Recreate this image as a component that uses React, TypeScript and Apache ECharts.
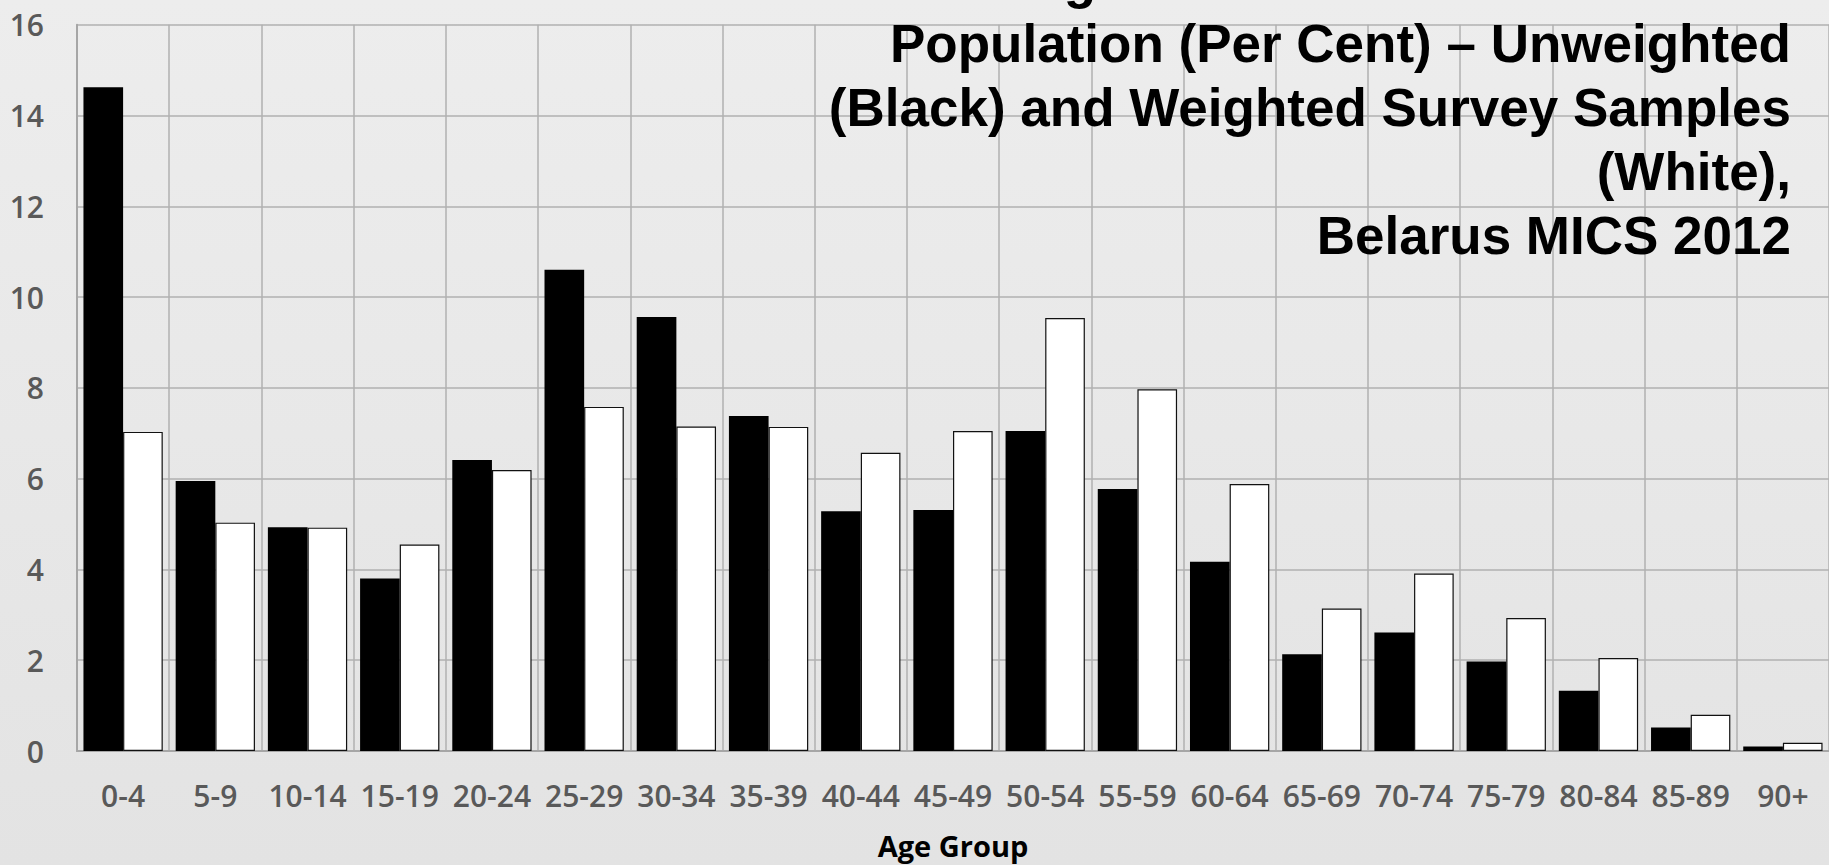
import React, { useEffect, useRef } from "react";
import * as echarts from "echarts";

const categories = ["0-4", "5-9", "10-14", "15-19", "20-24", "25-29", "30-34", "35-39", "40-44", "45-49", "50-54", "55-59", "60-64", "65-69", "70-74", "75-79", "80-84", "85-89", "90+"];
const unweighted = [14.62, 5.95, 4.93, 3.8, 6.41, 10.6, 9.56, 7.38, 5.28, 5.31, 7.05, 5.77, 4.17, 2.13, 2.61, 1.97, 1.33, 0.52, 0.1];
const weighted = [7.03, 5.03, 4.92, 4.55, 6.19, 7.58, 7.15, 7.14, 6.57, 7.05, 9.54, 7.97, 5.88, 3.14, 3.91, 2.93, 2.05, 0.8, 0.18];
const yTicks = { min: 0, max: 16, interval: 2 };
const titleLines = [
  "Age Distribution of Household",
  "Population (Per Cent) \u2013 Unweighted",
  "(Black) and Weighted Survey Samples",
  "(White),",
  "Belarus MICS 2012",
];
const xAxisName = "Age Group";

export default function App() {
  const ref = useRef<HTMLDivElement>(null);
  useEffect(() => {
    if (!ref.current) return;
    const chart = echarts.init(ref.current, null, { renderer: "svg" });
    chart.setOption({
      animation: false,
      backgroundColor: {
        type: "linear",
        x: 0, y: 0, x2: 0, y2: 1,
        colorStops: [
          { offset: 0, color: "#ededed" },
          { offset: 0.6, color: "#e7e7e7" },
          { offset: 1, color: "#e3e3e3" },
        ],
      },
      graphic: [
        {
          type: "text",
          x: 1791,
          y: -53,
          z: 100,
          style: {
            text: titleLines.join("\n"),
            align: "right",
            verticalAlign: "top",
            fontFamily: "Liberation Sans, Arial, sans-serif",
            fontWeight: "bold",
            fontSize: 53,
            lineHeight: 64,
            fill: "#000",
          },
        },
      ],
      grid: { left: 77, right: -9, top: 24.7, bottom: 111, containLabel: false },
      xAxis: {
        type: "category",
        data: categories,
        name: xAxisName,
        nameLocation: "middle",
        nameGap: 80,
        nameTextStyle: {
          fontFamily: "Open Sans, sans-serif",
          fontWeight: "bold",
          fontSize: 29,
          color: "#000",
        },
        axisLine: { show: true, lineStyle: { color: "#a6a6a6", width: 2 } },
        axisTick: { show: false },
        axisLabel: {
          interval: 0,
          margin: 29,
          fontFamily: "Open Sans, sans-serif",
          fontWeight: 600,
          fontSize: 30,
          color: "#595959",
        },
        splitLine: { show: true, interval: 0, lineStyle: { color: "#b0b0b0", width: 1.5 } },
      },
      yAxis: {
        type: "value",
        min: yTicks.min,
        max: yTicks.max,
        interval: yTicks.interval,
        axisLine: { show: true, lineStyle: { color: "#a6a6a6", width: 2 } },
        axisTick: { show: false },
        axisLabel: {
          margin: 33,
          fontFamily: "Open Sans, sans-serif",
          fontWeight: 600,
          fontSize: 30,
          color: "#595959",
        },
        splitLine: { show: true, lineStyle: { color: "#b0b0b0", width: 1.5 } },
      },
      series: [
        {
          name: "Unweighted",
          type: "bar",
          data: unweighted,
          barGap: "0%",
          barCategoryGap: "14%",
          itemStyle: { color: "#000000", borderColor: "#000000", borderWidth: 0 },
        },
        {
          name: "Weighted",
          type: "bar",
          data: weighted,
          barGap: "0%",
          barCategoryGap: "14%",
          itemStyle: { color: "#ffffff", borderColor: "#111111", borderWidth: 1.2 },
        },
      ],
    });
    return () => chart.dispose();
  }, []);
  return (
    <div
      ref={ref}
      style={{ position: "fixed", left: 0, top: 0, width: 1829, height: 865 }}
    />
  );
}
